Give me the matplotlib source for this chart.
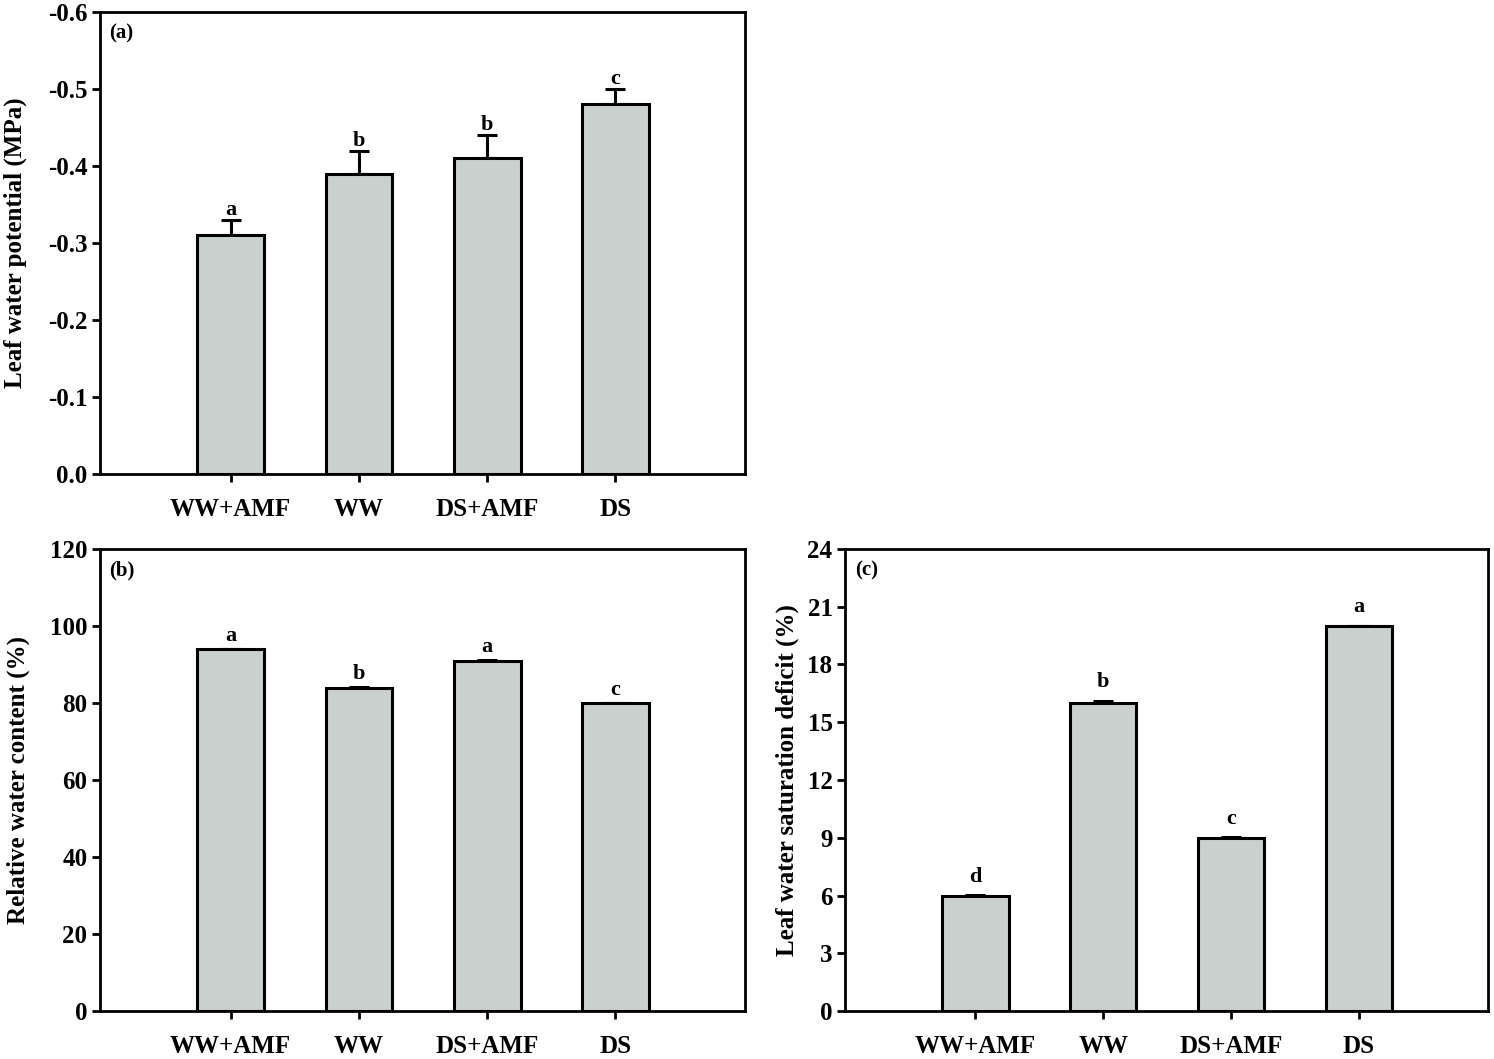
import numpy as np
import matplotlib
matplotlib.use("Agg")
import matplotlib.pyplot as plt

# ── data ────────────────────────────────────────────────────────────────────
TREATMENTS = ["WW+AMF", "WW", "DS+AMF", "DS"]

LWP       = [-0.31, -0.39, -0.41, -0.48]     # leaf water potential (MPa)
LWP_ERR   = [0.02, 0.03, 0.03, 0.02]
LWP_LET   = ["a", "b", "b", "c"]

RWC       = [94, 84, 91, 80]                 # relative water content (%)
RWC_ERR   = [0.1, 0.1, 0.1, 0.1]
RWC_LET   = ["a", "b", "a", "c"]

WSD       = [6, 16, 9, 20]                   # leaf water saturation deficit (%)
WSD_ERR   = [0.02, 0.12, 0.02, 0.02]
WSD_LET   = ["d", "b", "c", "a"]

BAR_COLOR = "#c9d0cd"

plt.rcParams["font.family"] = ["Liberation Serif", "DejaVu Serif"]
plt.rcParams["font.weight"] = "bold"
plt.rcParams["axes.labelweight"] = "bold"

fig = plt.figure(figsize=(14.94, 10.59), dpi=100)
ax_a = fig.add_axes([0.0669, 0.5524, 0.4317, 0.4363])
ax_b = fig.add_axes([0.0669, 0.0453, 0.4317, 0.4363])
ax_c = fig.add_axes([0.5656, 0.0453, 0.4304, 0.4363])


def panel(ax, vals, errs, letters, tag, ylabel, ylim, yticks, ticklabels, lift, negative=False):
    x = np.arange(len(TREATMENTS))
    vals = np.array(vals, dtype=float)
    errs = np.array(errs, dtype=float)
    ax.bar(x, vals, width=0.52, color=BAR_COLOR, edgecolor="black",
           linewidth=2.2, zorder=3)
    if negative:
        yerr = [errs, np.zeros_like(errs)]
        tops = vals - errs
    else:
        yerr = [np.zeros_like(errs), errs]
        tops = vals + errs
    ax.errorbar(x, vals, yerr=yerr, fmt="none", ecolor="black",
                elinewidth=2.2, capsize=7, capthick=2.2, zorder=2)
    for xi, t, lab in zip(x, tops, letters):
        ax.annotate(lab, xy=(xi, t), xytext=(0, lift), textcoords="offset points",
                    ha="center", va="bottom", fontsize=16, fontweight="bold")
    ax.set_xlim(-1.02, 4.01)
    ax.set_ylim(*ylim)
    ax.set_yticks(yticks)
    ax.set_yticklabels(ticklabels)
    ax.set_xticks(x)
    ax.set_xticklabels(TREATMENTS)
    ax.tick_params(axis="y", direction="out", length=6, width=2, pad=3, labelsize=18)
    ax.tick_params(axis="x", direction="out", length=6, width=2, pad=11, labelsize=18)
    for sp in ax.spines.values():
        sp.set_linewidth(2)
    ax.set_ylabel(ylabel, fontsize=18, fontweight="bold")
    ax.text(0.015, 0.975, tag, transform=ax.transAxes, ha="left", va="top",
            fontsize=15, fontweight="bold")


a_ticks = [0.0, -0.1, -0.2, -0.3, -0.4, -0.5, -0.6]
panel(ax_a, LWP, LWP_ERR, LWP_LET, "(a)", "Leaf water potential (MPa)",
      (0, -0.6), a_ticks, ["{:.1f}".format(t) if t != 0 else "0.0" for t in a_ticks],
      lift=0, negative=True)

b_ticks = list(range(0, 121, 20))
panel(ax_b, RWC, RWC_ERR, RWC_LET, "(b)", "Relative water content (%)",
      (0, 120), b_ticks, [str(t) for t in b_ticks], lift=2)

c_ticks = list(range(0, 25, 3))
panel(ax_c, WSD, WSD_ERR, WSD_LET, "(c)", "Leaf water saturation deficit (%)",
      (0, 24), c_ticks, [str(t) for t in c_ticks], lift=6)

ax_a.yaxis.set_label_coords(-0.113, 0.5)
ax_b.yaxis.set_label_coords(-0.109, 0.5)
ax_c.yaxis.set_label_coords(-0.072, 0.5)

fig.savefig("out.png", dpi=100)
